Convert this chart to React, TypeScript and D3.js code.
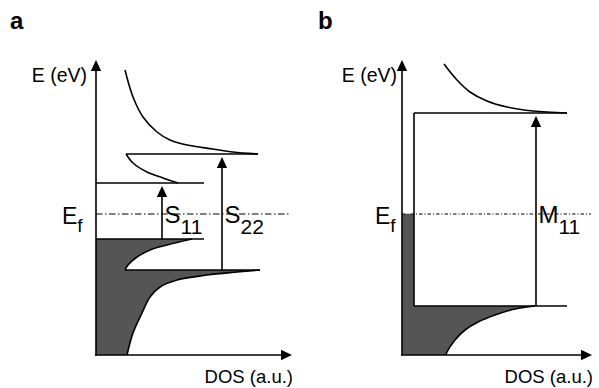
import React from "react";
import * as d3 from "d3";

type Pt = [number, number];

// Energy levels (arbitrary units, Fermi level at 0)
const semiLevels = { c1: 0.31, c2: 0.6, v1: -0.25, v2: -0.56 };
const metalLevels = { c1: 1.01, v1: -0.92 };

// Density-of-states tails (DOS, E) for the semiconducting tube
const semiC2Tail: Pt[] = [[0.29, 1.44], [0.37, 1.17], [0.47, 0.97], [0.61, 0.82], [0.74, 0.74], [0.91, 0.69], [1.17, 0.65], [1.37, 0.62], [1.62, 0.6]];
const semiC1Tail: Pt[] = [[0.3, 0.6], [0.37, 0.51], [0.51, 0.42], [0.67, 0.36], [0.82, 0.31]];
const semiV1Tail: Pt[] = [[0.96, -0.25], [0.71, -0.31], [0.54, -0.36], [0.41, -0.43], [0.32, -0.51], [0.29, -0.56]];
const semiV2Tail: Pt[] = [[1.64, -0.56], [1.41, -0.58], [1.11, -0.61], [0.81, -0.66], [0.64, -0.73], [0.54, -0.83], [0.46, -0.99], [0.37, -1.19], [0.31, -1.41]];

// Density-of-states tails for the metallic tube
const metalC1Tail: Pt[] = [[0.42, 1.5], [0.55, 1.34], [0.68, 1.22], [0.85, 1.13], [1.05, 1.07], [1.31, 1.03], [1.65, 1.01]];
const metalV1Tail: Pt[] = [[1.33, -0.92], [1.13, -0.95], [0.93, -1.01], [0.76, -1.08], [0.63, -1.16], [0.53, -1.26], [0.45, -1.38], [0.44, -1.41]];
const metalPlateau = 0.12;

// Horizontal singularity edges: [E, xStart, xEnd]
const semiEdges: [number, number, number][] = [[0.31, 0, 1.08], [0.6, 0.3, 1.62], [-0.25, 0, 1.08], [-0.56, 0.29, 1.64]];
const metalEdges: [number, number, number][] = [[1.01, 0.12, 1.65], [-0.92, 0.12, 1.65]];

// Optical transitions: [label main, subscript, DOS position, from E, to E]
const semiTransitions: [string, string, number, number, number][] = [["S", "11", 0.66, -0.25, 0.31], ["S", "22", 1.26, -0.56, 0.6]];
const metalTransitions: [string, string, number, number, number][] = [["M", "11", 1.34, -0.92, 1.01]];

const yDomain: [number, number] = [-1.41, 1.54];
const FONT = "'Liberation Sans', Arial, Helvetica, sans-serif";
const FILL = "#555555";

const yScale = d3.scaleLinear().domain(yDomain).range([355, 60]);
const xA = d3.scaleLinear().domain([0, 1.96]).range([96, 292]);
const xB = d3.scaleLinear().domain([0, 1.9]).range([402, 592]);

function curvePath(x: d3.ScaleLinear<number, number>, pts: Pt[]) {
  return d3
    .line<Pt>()
    .x((d) => x(d[0]))
    .y((d) => yScale(d[1]))
    .curve(d3.curveCatmullRom.alpha(0.5))(pts) as string;
}

// Continues an open path with a curved segment
function joinCurve(x: d3.ScaleLinear<number, number>, pts: Pt[]) {
  return curvePath(x, pts).replace(/^M/, "L");
}

function Arrow({ x1, y1, x2, y2, gap = 0 }: { x1: number; y1: number; x2: number; y2: number; gap?: number }) {
  const ang = Math.atan2(y2 - y1, x2 - x1);
  const tx = x2 - Math.cos(ang) * gap;
  const ty = y2 - Math.sin(ang) * gap;
  const len = 11;
  const half = 5.2;
  const bx = tx - Math.cos(ang) * len;
  const by = ty - Math.sin(ang) * len;
  const nx = -Math.sin(ang) * half;
  const ny = Math.cos(ang) * half;
  return (
    <g>
      <line x1={x1} y1={y1} x2={bx + Math.cos(ang)} y2={by + Math.sin(ang)} stroke="#000" strokeWidth={1.6} />
      <polygon points={`${tx},${ty} ${bx + nx},${by + ny} ${bx - nx},${by - ny}`} fill="#000" />
    </g>
  );
}

function Frame({ x, label, eLabelDx, dash, efDx }: { x: d3.ScaleLinear<number, number>; label: string; eLabelDx: number; dash: string; efDx: number }) {
  const [x0, x1] = x.range();
  const [yb, yt] = yScale.range();
  return (
    <g fontFamily={FONT}>
      <text x={x0 - 86 + (label === "b" ? 2 : 0)} y={29} fontSize={24} fontWeight="bold">{label}</text>
      <text x={x0 - eLabelDx} y={82} fontSize={19.5} textAnchor="end">E (eV)</text>
      <Arrow x1={x0} y1={yb + 0.8} x2={x0} y2={yt} />
      <Arrow x1={x0 - 0.8} y1={yb} x2={x1} y2={yb} />
      <text x={x1 + 1} y={383} fontSize={18.5} textAnchor="end">DOS (a.u.)</text>
      <line x1={x0} x2={x1 - 1} y1={yScale(0)} y2={yScale(0)} stroke="#000" strokeWidth={1.2} strokeDasharray={dash} />
      <text x={x0 - efDx} y={224} fontSize={23}>
        E<tspan fontSize={19} dy={8}>f</tspan>
      </text>
    </g>
  );
}

function Transition({ x, t }: { x: d3.ScaleLinear<number, number>; t: [string, string, number, number, number] }) {
  const [main, sub, d, e0, e1] = t;
  const px = x(d);
  return (
    <g>
      <Arrow x1={px} y1={yScale(e0)} x2={px} y2={yScale(e1)} gap={3} />
      <text x={px + 2.5} y={223} fontSize={24} fontFamily={FONT}>
        {main}
        <tspan fontSize={21} dy={11}>{sub}</tspan>
      </text>
    </g>
  );
}

function SemiPanel() {
  const x = xA;
  const L = semiLevels;
  const fill =
    `M${x(0)},${yScale(L.v1)}` +
    joinCurve(x, semiV1Tail) +
    joinCurve(x, semiV2Tail) +
    `L${x(0)},${yScale(yDomain[0])}Z`;
  return (
    <g>
      <path d={fill} fill={FILL} />
      <Frame x={x} label="a" eLabelDx={9} dash="6.5,2.5,1.5,2.5" efDx={34} />
      <g fill="none" stroke="#000" strokeWidth={1.6}>
        <path d={curvePath(x, semiC2Tail)} />
        <path d={curvePath(x, semiC1Tail)} />
        <path d={curvePath(x, semiV1Tail)} />
        <path d={curvePath(x, semiV2Tail)} />
        {semiEdges.map(([e, a, b], i) => (
          <line key={i} x1={x(a)} x2={x(b)} y1={yScale(e)} y2={yScale(e)} />
        ))}
      </g>
      {semiTransitions.map((t, i) => (
        <Transition key={i} x={x} t={t} />
      ))}
    </g>
  );
}

function MetalPanel() {
  const x = xB;
  const L = metalLevels;
  const fill =
    `M${x(0)},${yScale(0)}L${x(metalPlateau)},${yScale(0)}L${x(metalPlateau)},${yScale(L.v1)}` +
    joinCurve(x, metalV1Tail) +
    `L${x(0)},${yScale(yDomain[0])}Z`;
  return (
    <g>
      <path d={fill} fill={FILL} />
      <Frame x={x} label="b" eLabelDx={5} dash="3.5,2,1,2" efDx={27} />
      <g fill="none" stroke="#000" strokeWidth={1.6}>
        <path d={curvePath(x, metalC1Tail)} />
        <path d={curvePath(x, metalV1Tail)} />
        <line x1={x(metalPlateau)} x2={x(metalPlateau)} y1={yScale(L.c1)} y2={yScale(L.v1)} />
        {metalEdges.map(([e, a, b], i) => (
          <line key={i} x1={x(a)} x2={x(b)} y1={yScale(e)} y2={yScale(e)} />
        ))}
      </g>
      {metalTransitions.map((t, i) => (
        <Transition key={i} x={x} t={t} />
      ))}
    </g>
  );
}

export default function App() {
  return (
    <svg width={599} height={388} style={{ position: "absolute", left: 0, top: 0, background: "#fff" }}>
      <SemiPanel />
      <MetalPanel />
    </svg>
  );
}
